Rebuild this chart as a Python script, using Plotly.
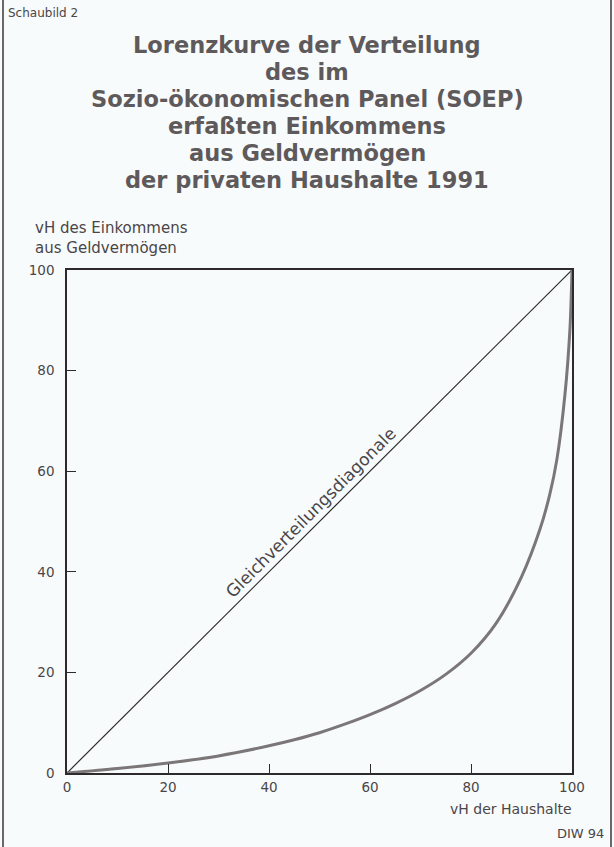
import plotly.graph_objects as go

# ---- data ----
haushalte_pct = [0, 10, 20, 30, 40, 45, 50, 55, 60, 65, 70, 75, 80, 85, 90, 93.7, 95.6, 97, 98.6, 99.6, 100]
einkommen_pct = [0, 0.9, 2.0, 3.4, 5.4, 6.6, 8.0, 9.7, 11.6, 13.8, 16.4, 19.6, 23.8, 29.8, 39.0, 48.6, 55.4, 62.3, 75.2, 88.4, 100]
diag_x = [0, 100]
diag_y = [0, 100]
tick_vals = [0, 20, 40, 60, 80, 100]
tick_text = ["0", "20", "40", "60", "80", "100"]

title_lines = [
    "Lorenzkurve der Verteilung",
    "des im",
    "Sozio-ökonomischen Panel (SOEP)",
    "erfaßten Einkommens",
    "aus Geldvermögen",
    "der privaten Haushalte 1991",
]

W, H = 614, 847
L, R, T, B = 67, 42, 270, 74
PW = W - L - R
PH = H - T - B

def px_x(x):
    return (x - L) / PW

def px_y(y):
    return (H - B - y) / PH

BG = "#f8fbfb"
INK = "#2e2a2c"
TXT = "#4a4648"
FONT = "DejaVu Sans"

fig = go.Figure()

fig.add_trace(go.Scatter(
    x=diag_x, y=diag_y, mode="lines",
    line=dict(color=INK, width=1.2), showlegend=False, hoverinfo="skip"))

fig.add_trace(go.Scatter(
    x=haushalte_pct, y=einkommen_pct, mode="lines",
    line=dict(color="#7b7678", width=3, shape="spline", smoothing=0.8),
    showlegend=False, hoverinfo="skip"))

annotations = []
centers = [45, 72, 99, 126, 153, 180]
for line, cy in zip(title_lines, centers):
    annotations.append(dict(
        text=line, xref="paper", yref="paper", x=px_x(307), y=px_y(cy),
        xanchor="center", yanchor="middle", showarrow=False,
        font=dict(family=FONT, size=22.5, color="#5e5a5c", weight="bold")))

annotations.append(dict(
    text="Schaubild 2", xref="paper", yref="paper", x=px_x(6), y=px_y(13),
    xanchor="left", yanchor="middle", showarrow=False,
    font=dict(family=FONT, size=12, color=TXT)))

annotations.append(dict(
    text="vH des Einkommens<br>aus Geldvermögen", xref="paper", yref="paper",
    x=px_x(33), y=px_y(259), xanchor="left", yanchor="bottom", align="left",
    showarrow=False, font=dict(family=FONT, size=15, color=TXT)))

annotations.append(dict(
    text="vH der Haushalte", xref="paper", yref="paper",
    x=px_x(574), y=px_y(809), xanchor="right", yanchor="middle",
    showarrow=False, font=dict(family=FONT, size=14, color=TXT)))

annotations.append(dict(
    text="DIW 94", xref="paper", yref="paper",
    x=px_x(606), y=px_y(833), xanchor="right", yanchor="middle",
    showarrow=False, font=dict(family=FONT, size=13, color=TXT)))

annotations.append(dict(
    text="Gleichverteilungsdiagonale", xref="x", yref="y",
    x=48.4, y=51.8, textangle=-45, xanchor="center", yanchor="middle",
    showarrow=False, font=dict(family=FONT, size=17, color=TXT)))

axis_common = dict(
    range=[0, 100], tickvals=tick_vals, ticktext=tick_text,
    showgrid=False, zeroline=False, showline=True, linecolor=INK, linewidth=1.5,
    mirror=True, ticks="inside", ticklen=9, tickwidth=1.3, tickcolor=INK,
    tickfont=dict(family=FONT, size=13.5, color=TXT), fixedrange=True,
)

fig.update_layout(
    width=W, height=H, autosize=False,
    margin=dict(l=L, r=R, t=T, b=B, pad=0),
    paper_bgcolor=BG, plot_bgcolor=BG,
    xaxis=dict(**axis_common, ticklabelstandoff=1),
    yaxis=dict(**axis_common, ticklabelstandoff=8),
    annotations=annotations,
    shapes=[
        dict(type="line", xref="paper", yref="paper", x0=px_x(3), x1=px_x(3), y0=px_y(0), y1=px_y(H),
             line=dict(color="#3a3638", width=1.5)),
        dict(type="line", xref="paper", yref="paper", x0=px_x(611), x1=px_x(611), y0=px_y(0), y1=px_y(H),
             line=dict(color="#3a3638", width=1.5)),
    ],
)

fig.write_html(
    "out.html",
    config={"displayModeBar": False},
    post_script="document.body.style.margin='0px';document.body.style.background='%s';" % BG,
)
